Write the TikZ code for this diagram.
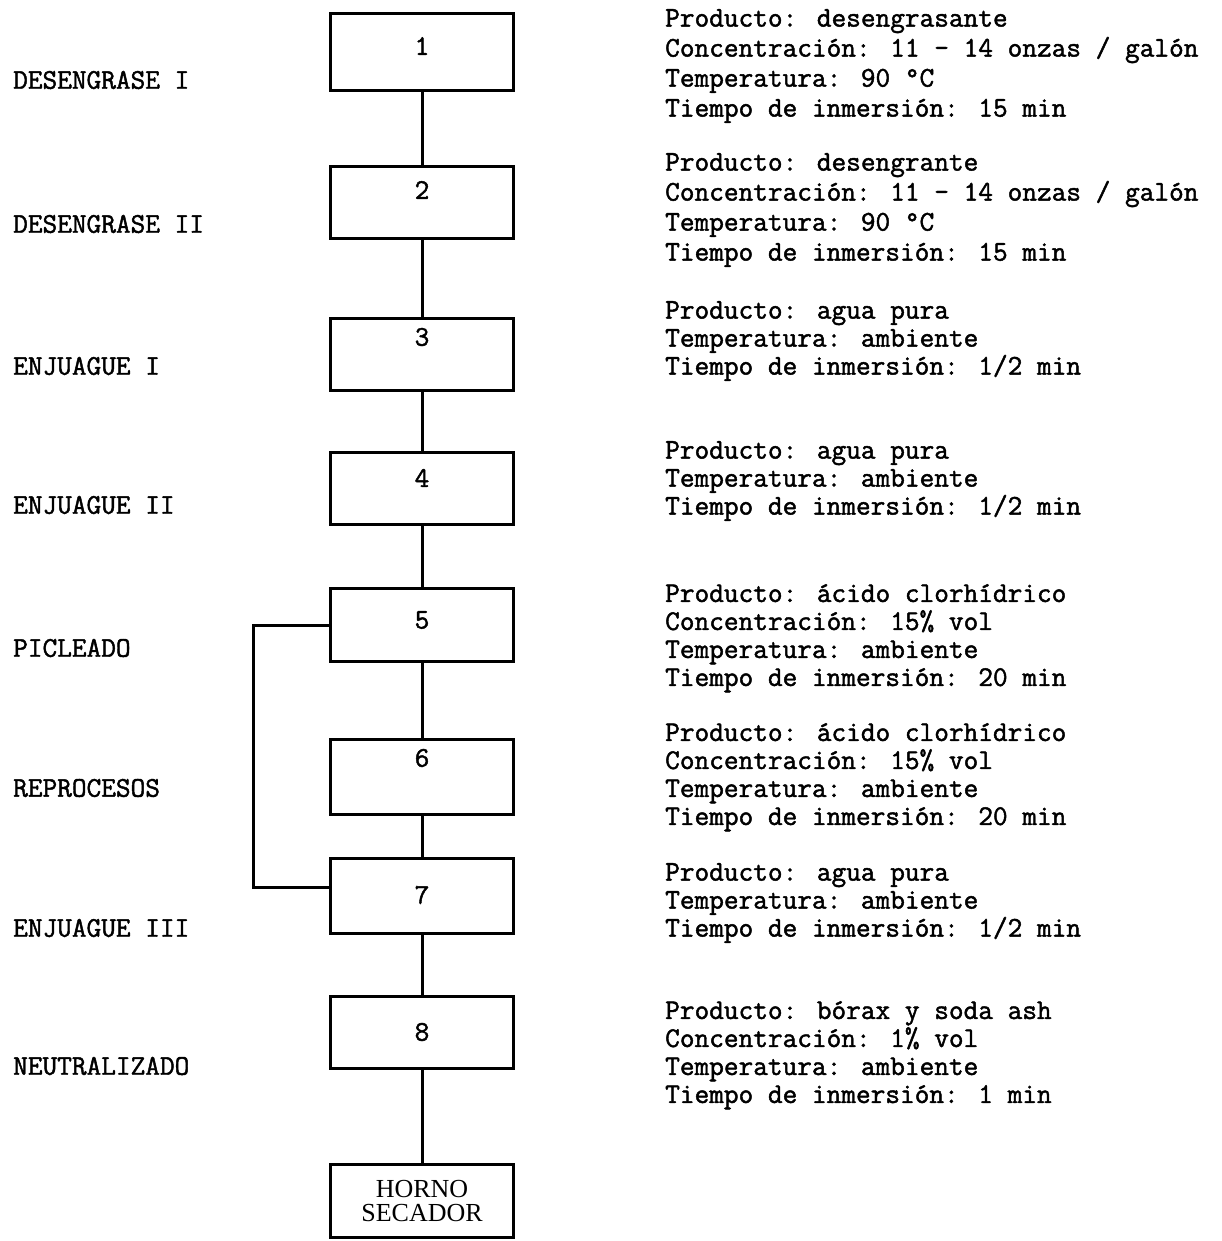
\documentclass[tikz,border=0pt]{standalone}
\usepackage{fontspec}
\newfontfamily\tw{Latin Modern Mono}[FakeBold=1.6]
\newfontfamily\hornofont{Liberation Serif}
\begin{document}
\begin{tikzpicture}[x=1pt,y=-1pt,
  stagebox/.style={draw, line width=3pt, rectangle, minimum width=183pt, inner sep=0pt},
  numtext/.style={inner sep=0pt, font=\tw\bfseries\fontsize{28.5}{28}\selectfont},
  infoblock/.style={anchor=north west, inner sep=0pt, align=left, font=\tw\bfseries\fontsize{28.5}{28}\selectfont},
  infoblockwide/.style={infoblock, font=\tw\bfseries\fontsize{28.5}{30}\selectfont},
  stagelabel/.style={anchor=west, inner sep=0pt, font=\tw\bfseries\fontsize{28.5}{28}\selectfont},
  link/.style={line width=3pt}
]
\useasboundingbox (0,0) rectangle (1222,1241);

% boxes
\node[stagebox, minimum height=77pt] (b1) at (422,52) {};
\node[stagebox, minimum height=72pt] (b2) at (422,202.5) {};
\node[stagebox, minimum height=72pt] (b3) at (422,354.5) {};
\node[stagebox, minimum height=72pt] (b4) at (422,488.5) {};
\node[stagebox, minimum height=73pt] (b5) at (422,625) {};
\node[stagebox, minimum height=75pt] (b6) at (422,777) {};
\node[stagebox, minimum height=75pt] (b7) at (422,896) {};
\node[stagebox, minimum height=72pt] (b8) at (422,1032.5) {};
\node[stagebox, minimum height=73pt, align=center, font=\hornofont\fontsize{26}{24}\selectfont] (horno) at (422,1201) {HORNO\\SECADOR};

% numbers
\node[numtext] (n1) at (422,46) {1};
\node[numtext] (n2) at (422,190) {2};
\node[numtext] (n3) at (422,337) {3};
\node[numtext] (n4) at (422,478) {4};
\node[numtext] (n5) at (422,620) {5};
\node[numtext] (n6) at (422,758) {6};
\node[numtext] (n7) at (422,895) {7};
\node[numtext] (n8) at (422,1032) {8};

% connectors
\draw[link] (b1.south) -- (b2.north);
\draw[link] (b2.south) -- (b3.north);
\draw[link] (b3.south) -- (b4.north);
\draw[link] (b4.south) -- (b5.north);
\draw[link] (b5.south) -- (b6.north);
\draw[link] (b6.south) -- (b7.north);
\draw[link] (b7.south) -- (b8.north);
\draw[link] (b8.south) -- (horno.north);
\draw[link] (b5.west) -- (253,625) -- (253,887) -- ([yshift=9pt]b7.west);

% left labels
\node[stagelabel] (l1) at (13,80) {DESENGRASE I};
\node[stagelabel] (l2) at (13,224) {DESENGRASE II};
\node[stagelabel] (l3) at (13,366) {ENJUAGUE I};
\node[stagelabel] (l4) at (13,505) {ENJUAGUE II};
\node[stagelabel] (l5) at (13,648) {PICLEADO};
\node[stagelabel] (l6) at (13,788) {REPROCESOS};
\node[stagelabel] (l7) at (13,928) {ENJUAGUE III};
\node[stagelabel] (l8) at (13,1066) {NEUTRALIZADO};

% info blocks
\node[infoblockwide] (i1) at (665,9) {Producto: desengrasante\\Concentración: 11 - 14 onzas / galón\\Temperatura: 90 °C\\Tiempo de inmersión: 15 min};
\node[infoblockwide] (i2) at (665,153) {Producto: desengrante\\Concentración: 11 - 14 onzas / galón\\Temperatura: 90 °C\\Tiempo de inmersión: 15 min};
\node[infoblock] (i3) at (665,301) {Producto: agua pura\\Temperatura: ambiente\\Tiempo de inmersión: 1/2 min};
\node[infoblock] (i4) at (665,441) {Producto: agua pura\\Temperatura: ambiente\\Tiempo de inmersión: 1/2 min};
\node[infoblock] (i5) at (665,584) {Producto: ácido clorhídrico\\Concentración: 15\% vol\\Temperatura: ambiente\\Tiempo de inmersión: 20 min};
\node[infoblock] (i6) at (665,723) {Producto: ácido clorhídrico\\Concentración: 15\% vol\\Temperatura: ambiente\\Tiempo de inmersión: 20 min};
\node[infoblock] (i7) at (665,863) {Producto: agua pura\\Temperatura: ambiente\\Tiempo de inmersión: 1/2 min};
\node[infoblock] (i8) at (665,1001) {Producto: bórax y soda ash\\Concentración: 1\% vol\\Temperatura: ambiente\\Tiempo de inmersión: 1 min};
\end{tikzpicture}
\end{document}
